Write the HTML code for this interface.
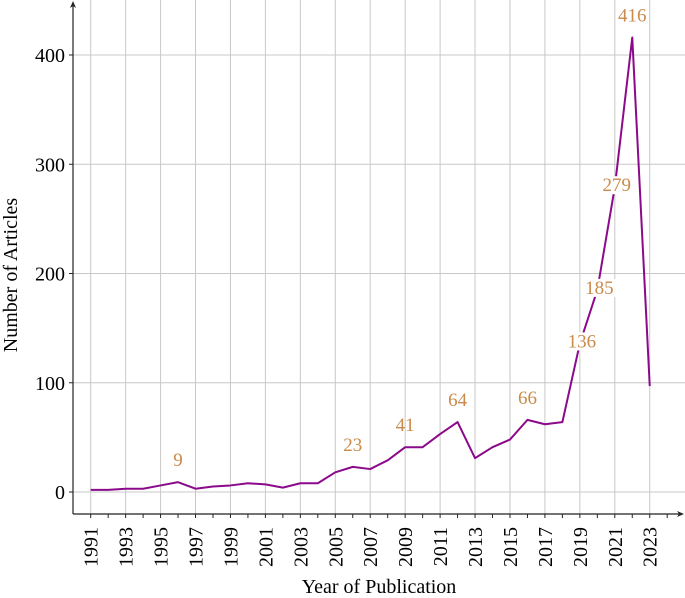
<!DOCTYPE html>
<html><head><meta charset="utf-8"><style>
body{margin:0;background:#fff}
svg{display:block;font-family:"Liberation Serif",serif}
</style></head><body>
<svg id="chart" width="685" height="598" viewBox="0 0 685 598" xmlns="http://www.w3.org/2000/svg">
<g id="grid"></g>
<g id="axes"></g>
<g id="series"></g>
<g id="labels"></g>
<text transform="translate(17,275) rotate(-90)" text-anchor="middle" font-size="20">Number of Articles</text>
<text x="379" y="593" text-anchor="middle" font-size="20">Year of Publication</text>
</svg>
<script>
const years=[1991,1992,1993,1994,1995,1996,1997,1998,1999,2000,2001,2002,2003,2004,2005,2006,2007,2008,2009,2010,2011,2012,2013,2014,2015,2016,2017,2018,2019,2020,2021,2022,2023];
const counts=[2,2,3,3,6,9,3,5,6,8,7,4,8,8,18,23,21,29,41,41,53,64,31,41,48,66,62,64,136,185,279,416,97];
const annotatedYears=[1996,2006,2009,2012,2016,2019,2020,2021,2022];
const annotatedPlacement=["above","above","above","above","above","center","center","center","above"];
const yTicks=[0,100,200,300,400];

const NS="http://www.w3.org/2000/svg";
const X0=90.7,PX=17.47,Y0=492,PY=1.0925;
const x=v=>X0+(v-1991)*PX;
const y=v=>Y0-v*PY;
function mk(tag,attrs,parent){const e=document.createElementNS(NS,tag);for(const k in attrs)e.setAttribute(k,attrs[k]);parent.appendChild(e);return e;}
const grid=document.getElementById('grid'),axes=document.getElementById('axes'),series=document.getElementById('series'),labels=document.getElementById('labels');

yTicks.forEach(t=>{
  const l=mk('line',{x1:73,x2:685,y1:y(t),y2:y(t),stroke:'#c8c8c8','stroke-width':1},grid);
  
  
  const tk=mk('line',{x1:69,x2:73,y1:y(t),y2:y(t),stroke:'#222','stroke-width':1},axes);
  
  
  const tx=mk('text',{x:65,y:y(t)+7,'text-anchor':'end','font-size':20},axes);
  tx.textContent=t;
  
  
});
years.forEach((yr,i)=>{
  const xi=x(yr);
  if((yr-1991)%2===0){
    const g=mk('line',{x1:xi,x2:xi,y1:0,y2:514,stroke:'#c8c8c8','stroke-width':1},grid);
    
    
    const tx=mk('text',{transform:`translate(${xi+7},527) rotate(-90)`,'text-anchor':'end','font-size':20},axes);
    tx.textContent=yr;
    
    
  }
  const tk=mk('line',{x1:xi,x2:xi,y1:514,y2:518,stroke:'#222','stroke-width':1},axes);
  
  
});
const tk2=mk('line',{x1:x(2024),x2:x(2024),y1:514,y2:518,stroke:'#222','stroke-width':1},axes);



const xa=mk('line',{x1:73,x2:681,y1:514,y2:514,stroke:'#222','stroke-width':1.2},axes);


const xarr=mk('path',{d:'M684,514 L677,511 L679,514 L677,517 Z',fill:'#222'},axes);


const ya=mk('line',{x1:73,x2:73,y1:4,y2:514,stroke:'#222','stroke-width':1.2},axes);


const yarr=mk('path',{d:'M73,1 L70,8 L73,6 L76,8 Z',fill:'#222'},axes);



const line=mk('polyline',{points:years.map((yr,i)=>x(yr)+','+y(counts[i])).join(' '),fill:'none',stroke:'#8b0a8b','stroke-width':2,'stroke-linejoin':'round'},series);



annotatedYears.forEach((yr,k)=>{
  const i=years.indexOf(yr);
  const v=counts[i];
  const above=annotatedPlacement[k]==='above';
  const cy=above?y(v)-22:y(v)-2;
  const cx=x(yr)+(above?0:2);
  const w=String(v).length*9.5+4;
  if(!above){
    const r=mk('rect',{x:cx-w/2,y:cy-9,width:w,height:18,fill:'#fff'},labels);
    
    
  }
  const t=mk('text',{x:cx,y:cy+6,'text-anchor':'middle','font-size':19,fill:'#c98a4b'},labels);
  t.textContent=v;
  
  
});
</script>
</body></html>
